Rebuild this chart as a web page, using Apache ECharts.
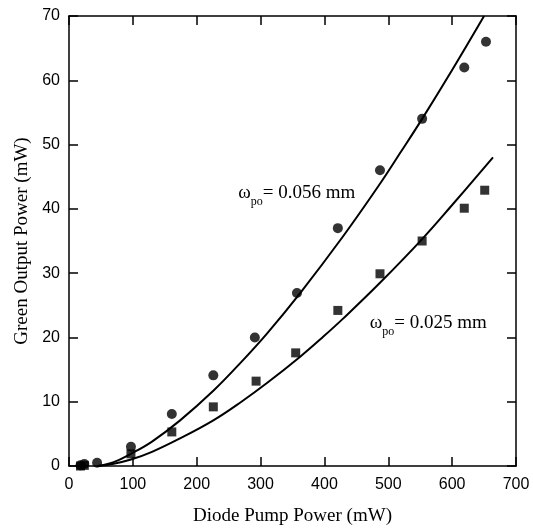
<!DOCTYPE html>
<html>
<head>
<meta charset="utf-8">
<script src="https://cdn.jsdelivr.net/npm/echarts@6/dist/echarts.min.js"></script>
<style>html,body{margin:0;padding:0;background:#fff;}#c{width:533px;height:531px;}</style>
</head>
<body>
<div id="c"></div>
<script>
// Measured points, omega_po = 0.056 mm (circles)
const circleX = [18, 24, 44, 97, 161, 226, 291, 357, 421, 487, 553, 619, 653];
const circleY = [0.1, 0.3, 0.5, 3.0, 8.1, 14.1, 20.0, 26.9, 37.0, 46.0, 54.0, 62.0, 66.0];
// Measured points, omega_po = 0.025 mm (squares)
const squareX = [18, 24, 97, 161, 226, 293, 355, 421, 487, 553, 619, 651];
const squareY = [0.0, 0.1, 1.9, 5.3, 9.2, 13.2, 17.6, 24.2, 29.9, 35.0, 40.1, 42.9];
// Model curves
const fit1X = [45, 70, 97, 130, 174, 226, 270, 310, 362, 429, 487, 518, 553, 600, 650];
const fit1Y = [0, 0.6, 1.9, 3.8, 7.1, 11.7, 16.2, 20.6, 26.9, 35.7, 43.9, 48.6, 54.0, 61.6, 70.0];
const fit2X = [45, 70, 97, 130, 174, 226, 270, 310, 362, 398, 430, 487, 553, 600, 664];
const fit2Y = [0, 0.35, 1.0, 2.2, 4.3, 7.1, 10.0, 12.9, 17.0, 20.1, 23.0, 28.5, 35.3, 40.6, 48.0];
// Annotations
const labelTexts = ['= 0.056 mm', '= 0.025 mm'];
const labelAt = [[265, 42.5], [471, 22.3]];

const zip = (a, b) => a.map((v, i) => [v, b[i]]);
const serif = '"Liberation Serif", "Times New Roman", serif';
const sans = '"Liberation Sans", Arial, sans-serif';

function annot(coord, txt) {
  return {
    coord: coord, symbol: 'circle', symbolSize: 0,
    label: {
      show: true, position: 'right', distance: 0,
      formatter: '{w|ω}{s|po}{t|' + txt + '}',
      rich: {
        w: { fontFamily: serif, fontSize: 19, color: '#000', lineHeight: 30, verticalAlign: 'middle' },
        s: { fontFamily: serif, fontSize: 12, color: '#000', lineHeight: 30, verticalAlign: 'bottom' },
        t: { fontFamily: serif, fontSize: 19, color: '#000', lineHeight: 30, verticalAlign: 'middle' }
      }
    }
  };
}

const axisCommon = {
  type: 'value', min: 0, interval: 100,
  axisLine: { show: true, onZero: false, lineStyle: { color: '#000', width: 1.5 } },
  axisTick: { show: true, inside: true, length: 9, lineStyle: { color: '#000', width: 1.5 } },
  splitLine: { show: false }
};

const chart = echarts.init(document.getElementById('c'), null, { renderer: 'canvas' });
chart.setOption({
  animation: false,
  backgroundColor: '#fff',
  grid: { left: 69, right: 17, top: 16, bottom: 64, containLabel: false },
  xAxis: [
    Object.assign({}, axisCommon, {
      max: 700, position: 'bottom',
      name: 'Diode Pump Power (mW)', nameLocation: 'middle', nameGap: 41,
      nameTextStyle: { fontFamily: serif, fontSize: 19, color: '#000' },
      axisLabel: { fontFamily: sans, fontSize: 16, color: '#000', margin: 11 }
    }),
    Object.assign({}, axisCommon, { max: 700, position: 'top', axisLabel: { show: false } })
  ],
  yAxis: [
    Object.assign({}, axisCommon, {
      max: 70, interval: 10, position: 'left',
      name: 'Green Output Power (mW)', nameLocation: 'middle', nameGap: 34,
      nameTextStyle: { fontFamily: serif, fontSize: 19, color: '#000' },
      axisLabel: { fontFamily: sans, fontSize: 16, color: '#000', margin: 9 }
    }),
    Object.assign({}, axisCommon, { max: 70, interval: 10, position: 'right', axisLabel: { show: false } })
  ],
  series: [
    {
      type: 'line', data: zip(fit1X, fit1Y), smooth: 0.4, showSymbol: false, clip: true,
      lineStyle: { color: '#000', width: 2 },
      markPoint: { data: [annot(labelAt[0], labelTexts[0])] }
    },
    {
      type: 'line', data: zip(fit2X, fit2Y), smooth: 0.4, showSymbol: false, clip: true,
      lineStyle: { color: '#000', width: 2 },
      markPoint: { data: [annot(labelAt[1], labelTexts[1])] }
    },
    {
      type: 'scatter', data: zip(squareX, squareY), symbol: 'rect', symbolSize: 9,
      itemStyle: { color: '#000' }
    },
    {
      type: 'scatter', data: zip(circleX, circleY), symbol: 'circle', symbolSize: 10,
      itemStyle: { color: '#000' }
    }
  ]
});
</script>
</body>
</html>
